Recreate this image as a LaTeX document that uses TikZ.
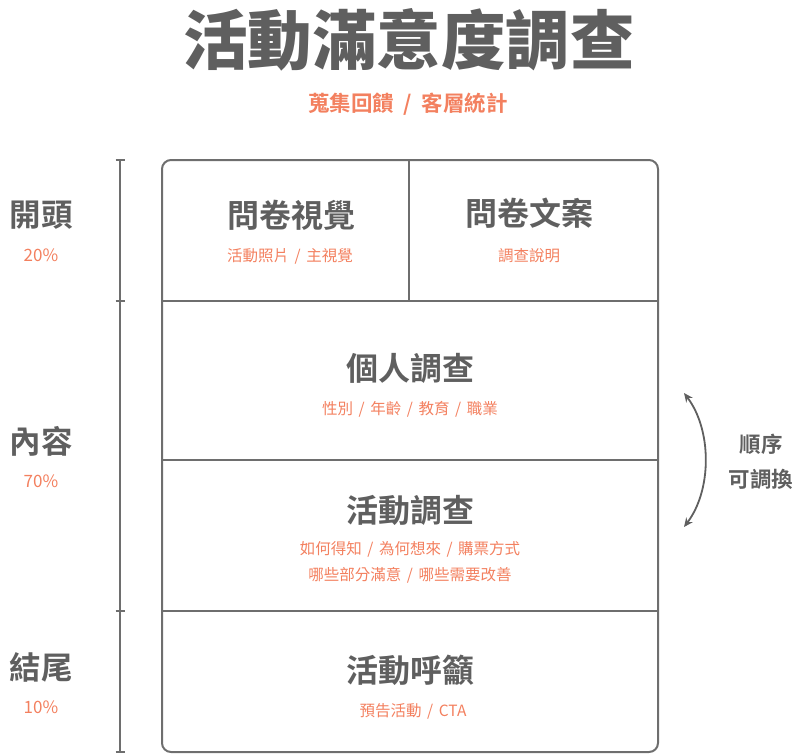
\documentclass[tikz,border=0pt]{standalone}
\usepackage{fontspec}
\setmainfont{Noto Sans CJK TC}[BoldFont={Noto Sans CJK TC Bold}]
\newfontfamily\cjkblack{Noto Sans CJK TC Black}
\usetikzlibrary{arrows.meta}
\definecolor{ink}{HTML}{5F5F5F}
\definecolor{salmon}{HTML}{F3805F}
\definecolor{rule}{HTML}{6E6E6E}
\newcommand{\slsep}{\hspace{0.36em}/\hspace{0.36em}}
\newcommand{\slsepwide}{\hspace{0.45em}/\hspace{0.45em}}
\tikzset{
  head/.style={text=ink, font=\bfseries\fontsize{32}{34}\selectfont, inner sep=0pt},
  sub/.style={text=salmon, font=\fontsize{15.5}{18}\selectfont, inner sep=0pt},
  side/.style={text=ink, font=\bfseries\fontsize{31.5}{34}\selectfont, inner sep=0pt},
  pct/.style={text=salmon, font=\fontsize{17}{19}\selectfont, inner sep=0pt},
  frame/.style={draw=rule, line width=2pt},
  ruler/.style={draw=rule, line width=1.6pt},
  note/.style={text=ink, font=\bfseries\fontsize{21.5}{24}\selectfont, inner sep=0pt},
}
\begin{document}
\begin{tikzpicture}[x=1pt,y=-1pt]
\useasboundingbox (0,0) rectangle (800,755);
% title
\node[text=ink, font=\cjkblack\fontsize{64.5}{68}\selectfont, inner sep=0pt] (title) at (409,40) {活動滿意度調查};
\node[text=salmon, font=\bfseries\fontsize{21.5}{24}\selectfont, inner sep=0pt] (subtitle) at (408,104) {蒐集回饋\slsepwide 客層統計};
% frame
\draw[frame, rounded corners=9pt] (162,160) rectangle (658,752);
\coordinate (h1l) at (162,301); \coordinate (h1r) at (658,301);
\coordinate (h2l) at (162,460); \coordinate (h2r) at (658,460);
\coordinate (h3l) at (162,611); \coordinate (h3r) at (658,611);
\coordinate (vt) at (409,160); \coordinate (vb) at (409,301);
\draw[frame] (h1l) -- (h1r);
\draw[frame] (h2l) -- (h2r);
\draw[frame] (h3l) -- (h3r);
\draw[frame] (vt) -- (vb);
% ruler
\coordinate (r0) at (120,160); \coordinate (r1) at (120,301);
\coordinate (r2) at (120,611); \coordinate (r3) at (120,752);
\draw[ruler] (r0) -- (r3);
\foreach \c in {r0,r1,r2,r3} \draw[ruler] ([xshift=-4.5pt]\c) -- ([xshift=4.5pt]\c);
% side labels
\node[side] (s1) at (41,215) {開頭};
\node[pct] (p1) at (41,255) {20\%};
\node[side] (s2) at (41,441) {內容};
\node[pct] (p2) at (41,481) {70\%};
\node[side] (s3) at (41,667) {結尾};
\node[pct] (p3) at (41,707) {10\%};
% box contents
\node[head] (b1) at (291,215) {問卷視覺};
\node[sub] (b1s) at (290,256) {活動照片\slsep 主視覺};
\node[head] (b2) at (529,213) {問卷文案};
\node[sub] (b2s) at (529,256) {調查說明};
\node[head] (b3) at (410,368) {個人調查};
\node[sub] (b3s) at (410,409) {性別\slsep 年齡\slsep 教育\slsep 職業};
\node[head] (b4) at (410,510) {活動調查};
\node[sub] (b4s) at (410,549) {如何得知\slsep 為何想來\slsep 購票方式};
\node[sub] (b4t) at (410,575) {哪些部分滿意\slsep 哪些需要改善};
\node[head] (b5) at (410,670) {活動呼籲};
\node[sub] (b5s) at (413,711) {預告活動\slsep CTA};
% swap arrow
\coordinate (at) at (684,393);
\coordinate (ab) at (684,527);
\draw[draw=ink, line width=1.8pt, {Stealth[length=9pt,width=8pt]}-{Stealth[length=9pt,width=8pt]}]
  (at) .. controls (712,430) and (712,490) .. (ab);
\node[note] (n1) at (761,444) {順序};
\node[note] (n2) at (761,479) {可調換};
\end{tikzpicture}
\end{document}
